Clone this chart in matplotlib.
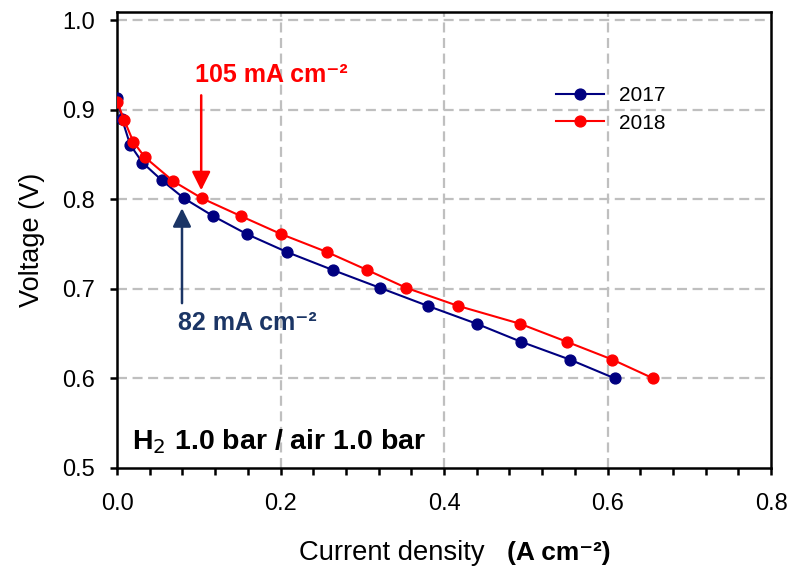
import matplotlib
matplotlib.use("Agg")
import matplotlib.pyplot as plt
from matplotlib.ticker import MultipleLocator, FormatStrFormatter

plt.rcParams['font.family'] = ['Liberation Sans', 'DejaVu Sans']

# Data (current density A/cm^2, voltage V)
x2017 = [0.000, 0.006, 0.016, 0.031, 0.055, 0.082, 0.118, 0.159, 0.208, 0.264,
         0.322, 0.380, 0.440, 0.494, 0.554, 0.609]
v2017 = [0.913, 0.890, 0.861, 0.841, 0.821, 0.801, 0.781, 0.761, 0.741, 0.721,
         0.701, 0.681, 0.661, 0.641, 0.621, 0.600]
x2018 = [0.000, 0.009, 0.020, 0.034, 0.069, 0.104, 0.152, 0.201, 0.257, 0.306,
         0.354, 0.417, 0.493, 0.550, 0.606, 0.656]
v2018 = [0.909, 0.888, 0.864, 0.847, 0.820, 0.801, 0.781, 0.761, 0.741, 0.721,
         0.701, 0.681, 0.661, 0.641, 0.621, 0.600]
series_labels = ['2017', '2018']
label_2017 = '82 mA cm\u207b\u00b2'
label_2018 = '105 mA cm\u207b\u00b2'
condition = 'H$_2$ 1.0 bar / air 1.0 bar'

blue = '#000080'
red = '#FF0000'
navy_txt = '#1B3565'

fig = plt.figure(figsize=(7.9, 5.67), dpi=100)
ax = fig.add_axes([117/790, 1-468/567, (771-117)/790, (468-12)/567])

ax.set_xlim(0, 0.8)
ax.set_ylim(0.5, 1.009)

for yv in [0.6, 0.7, 0.8, 0.9, 1.0]:
    ax.axhline(yv, color='#BFBFBF', lw=1.6, ls=(0, (4.5, 2.5)), zorder=0)
for xv in [0.2, 0.4, 0.6]:
    ax.axvline(xv, color='#BFBFBF', lw=1.6, ls=(0, (4.5, 2.5)), zorder=0)

ax.plot(x2017, v2017, '-o', color=blue, lw=1.5, ms=7.8, label=series_labels[0], zorder=3)
ax.plot(x2018, v2018, '-o', color=red, lw=1.5, ms=7.8, label=series_labels[1], zorder=4)

ax.xaxis.set_major_locator(MultipleLocator(0.2))
ax.xaxis.set_minor_locator(MultipleLocator(0.04))
ax.yaxis.set_major_locator(MultipleLocator(0.1))
ax.xaxis.set_major_formatter(FormatStrFormatter('%.1f'))
ax.yaxis.set_major_formatter(FormatStrFormatter('%.1f'))
ax.tick_params(axis='both', which='major', direction='out', length=5, width=1.8,
               labelsize=17, colors='black')
ax.tick_params(axis='x', which='minor', direction='out', length=5, width=1.8)
ax.tick_params(axis='x', which='major', pad=13)
ax.tick_params(axis='y', which='major', pad=11)
for sp in ax.spines.values():
    sp.set_linewidth(1.8)
    sp.set_color('black')

leg = ax.legend(loc='center left', bbox_to_anchor=(0.671, 0.786), frameon=False,
                fontsize=15, handlelength=2.3, handletextpad=0.75, labelspacing=0.4,
                borderaxespad=0, borderpad=0)

# annotations
ax.annotate('', xy=(0.103, 0.810), xytext=(0.103, 0.916),
            arrowprops=dict(arrowstyle='-|>', color=red, lw=1.8, mutation_scale=28,
                            shrinkA=0, shrinkB=0))
ax.text(0.0954, 0.939, label_2018, color=red, fontsize=18, fontweight='bold',
        ha='left', va='center')
ax.annotate('', xy=(0.0795, 0.790), xytext=(0.0795, 0.684),
            arrowprops=dict(arrowstyle='-|>', color=navy_txt, lw=1.8, mutation_scale=28,
                            shrinkA=0, shrinkB=0))
ax.text(0.0746, 0.662, label_2017, color=navy_txt, fontsize=18, fontweight='bold',
        ha='left', va='center')
ax.text(0.018, 0.529, condition, color='black', fontsize=20.5, fontweight='bold',
        ha='left', va='center')

ax.set_ylabel('Voltage (V)', fontsize=19.5, labelpad=12)
fig.text(299/790, 1-560/567, 'Current density', fontsize=19.7, ha='left', va='baseline')
fig.text(507/790, 1-560/567, '(A cm\u207b\u00b2)', fontsize=19, fontweight='bold',
         ha='left', va='baseline')

fig.savefig('out.png', dpi=100)
